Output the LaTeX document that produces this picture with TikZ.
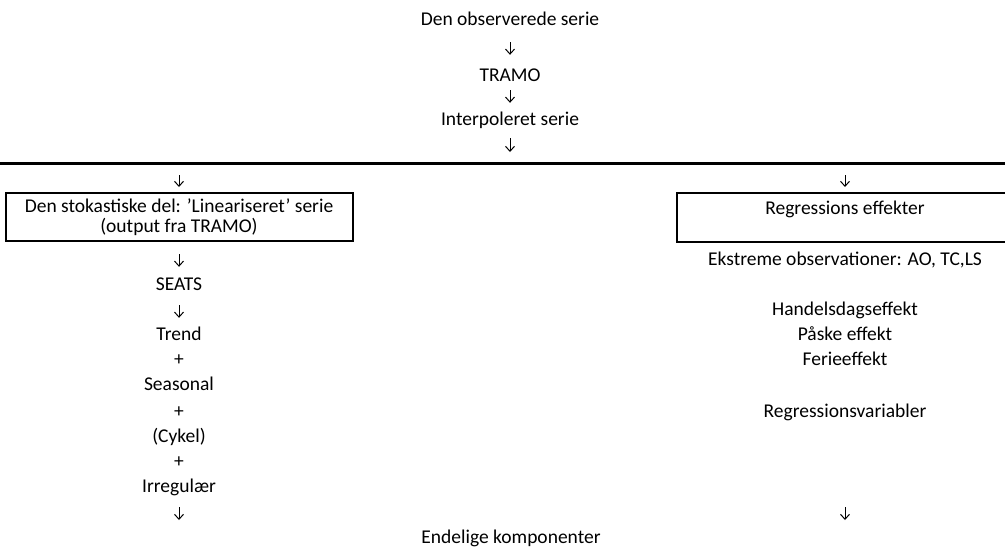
\documentclass[tikz,border=0pt]{standalone}
\usepackage{fontspec}
\setmainfont{Carlito}
\usetikzlibrary{positioning,arrows.meta}
\tikzset{
	txt/.style={inner sep=0pt, text height=12pt, text depth=4pt, font=\fontsize{19.5}{22}\selectfont},
	kasse/.style={draw, line width=2pt, inner sep=0pt, align=center, font=\fontsize{19.5}{19.5}\selectfont},
	pil/.style={-{Straight Barb[length=5pt,width=9pt]}, line width=1pt}
}
\begin{document}
\begin{tikzpicture}[x=1pt,y=-1pt]
	\useasboundingbox (0,0) rectangle (1005,547);
	\node[txt] (obs) at (510,21.5) {Den observerede serie};
	\node[txt] (tramo) at (510,77) {TRAMO};
	\node[txt] (interp) at (510,121.5) {Interpoleret serie};
	\coordinate (venstre) at (0,163);
	\coordinate (hoejre) at (1005,163);
	\draw[line width=3pt] (venstre) -- (hoejre);
	\coordinate (midt) at (510,161.5);
	\coordinate (splitv) at (179,164.5);
	\coordinate (splith) at (845,164.5);
	\draw[pil, shorten <=12.5pt, shorten >=14pt] (obs) -- (tramo);
	\draw[pil, shorten <=5pt, shorten >=10.5pt] (tramo) -- (interp);
	\draw[pil, shorten <=8.5pt, shorten >=9.5pt] (interp) -- (midt);
	\node[kasse, minimum width=347pt, minimum height=48pt] (stok) at (179,217) {Den stokastiske del: ’Lineariseret’ serie\\(output fra TRAMO)};
	\node[kasse, minimum width=336pt, minimum height=49pt] (reg) at (845,217.5) {Regressions effekter\\~};
	\draw[pil, shorten <=10.5pt, shorten >=5pt] (splitv) -- (stok);
	\draw[pil, shorten <=10.5pt, shorten >=5pt] (splith) -- (reg);
	\node[txt] (seats) at (179,286.5) {SEATS};
	\node[txt] (trend) at (179,336.5) {Trend};
	\node[txt] (plus1) at (179,361.5) {+};
	\node[txt] (seas) at (179,386.5) {Seasonal};
	\node[txt] (plus2) at (179,413.5) {+};
	\node[txt] (cykel) at (179,438.5) {(Cykel)};
	\node[txt] (plus3) at (179,463.5) {+};
	\node[txt] (irr) at (179,488.5) {Irregulær};
	\coordinate (endv) at (179,520);
	\draw[pil, shorten <=12pt, shorten >=11.5pt] (stok) -- (seats);
	\draw[pil, shorten <=10.5pt, shorten >=10.5pt] (seats) -- (trend);
	\draw[pil, shorten <=10.5pt] (irr) -- (endv);
	\node[txt] (ekstrem) at (845,261.5) {Ekstreme observationer: AO, TC,LS};
	\node[txt] (handel) at (845,311.5) {Handelsdagseffekt};
	\node[txt] (paaske) at (845,336.5) {Påske effekt};
	\node[txt] (ferie) at (845,361.5) {Ferieeffekt};
	\node[txt] (regvar) at (845,413.5) {Regressionsvariabler};
	\coordinate (endh) at (845,520);
	\draw[pil, shorten <=85.5pt] (regvar) -- (endh);
	\node[txt] (endelig) at (511,539.5) {Endelige komponenter};
\end{tikzpicture}
\end{document}
